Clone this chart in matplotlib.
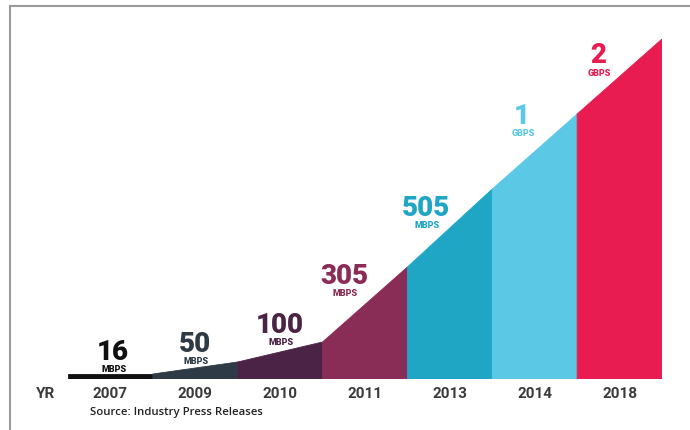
import matplotlib.pyplot as plt
from matplotlib.lines import Line2D

# data
years = ['2007', '2009', '2010', '2011', '2013', '2014', '2018']
speeds = ['16', '50', '100', '305', '505', '1', '2']
units = ['MBPS', 'MBPS', 'MBPS', 'MBPS', 'MBPS', 'GBPS', 'GBPS']
# height of the drawn outline at the left / right edge of each year (illustrative scale)
left_h = [5, 5, 17, 37, 112, 190, 265]
right_h = [5, 17, 37, 112, 190, 265, 340]
colors = ['#111111', '#2e3a45', '#4a2346', '#8a2d56', '#1fa6c5', '#5bc9e6', '#e81c50']

# label placement (layout only)
lab_dx = [0.03, 0.0, 0.0, -0.24, -0.28, -0.15, -0.25]
lab_y = [28, 36, 55, 104, 172, 264, 325]

fig = plt.figure(figsize=(6.9, 4.31), dpi=100)
ax = fig.add_axes([68 / 690, 51 / 431, 594 / 690, 340 / 431])
ax.set_xlim(0, len(years))
ax.set_ylim(0, 340)
ax.axis('off')

for i in range(len(years)):
    xs = [i, i, i + 1, i + 1]
    ys = [0, left_h[i], right_h[i], 0]
    ax.fill(xs, ys, facecolor=colors[i], edgecolor=colors[i], lw=0.6)

    cx = i + 0.5 + lab_dx[i]
    ax.text(cx, lab_y[i] - 8, speeds[i], ha='center', va='baseline', fontsize=20,
            fontweight='heavy', family='Roboto', color=colors[i])
    ax.text(cx + 0.01, lab_y[i] - 20.5, units[i], ha='center', va='baseline', fontsize=6.5,
            fontweight='heavy', family='Roboto', color=colors[i])

    ax.text(i + 0.5, -14, years[i], ha='center', va='center', fontsize=11,
            fontweight='bold', family='Roboto', color='#3a3a3a', clip_on=False)

ax.text(-0.27, -14, 'YR', ha='center', va='center', fontsize=11,
        fontweight='bold', family='Roboto', color='#3a3a3a', clip_on=False)
ax.text(0.26, -33, 'Source: Industry Press Releases', ha='left', va='center', fontsize=8.2,
        fontweight='semibold', family='Open Sans', color='#222222', clip_on=False)

# grey frame (top and left)
fig.add_artist(Line2D([10 / 690, 1], [1 - 7 / 431, 1 - 7 / 431], color='#9a9a9a', lw=1.5))
fig.add_artist(Line2D([10 / 690, 10 / 690], [0, 1 - 7 / 431], color='#9a9a9a', lw=1.5))

fig.savefig('out.png', dpi=100)
